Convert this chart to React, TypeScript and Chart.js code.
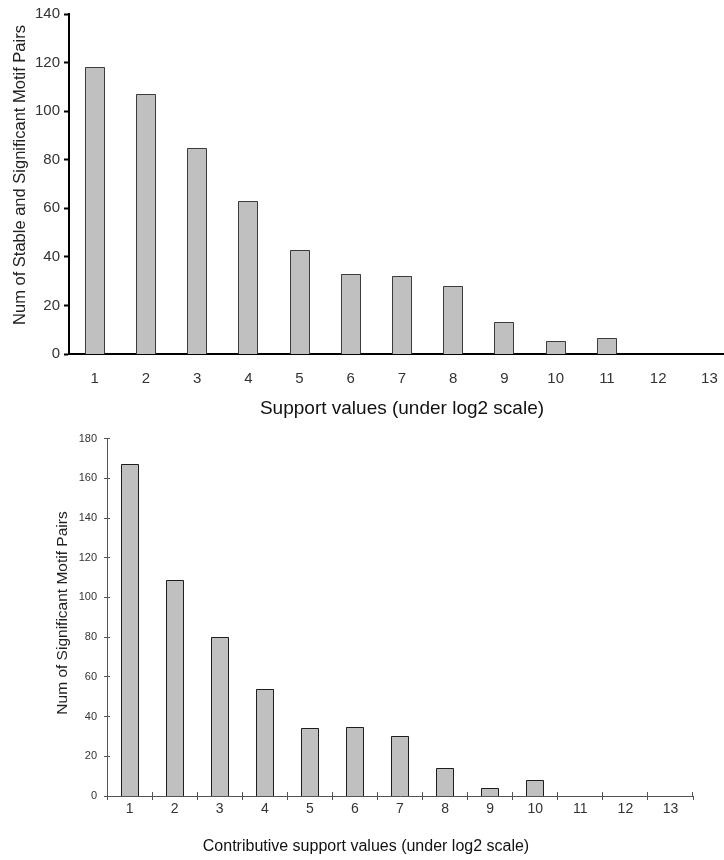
import React, { useEffect, useRef } from 'react';
import { Chart, registerables } from 'chart.js';

Chart.register(...registerables);

// Support values (log2 bins) and pair counts for both panels
const supportLabels = ['1', '2', '3', '4', '5', '6', '7', '8', '9', '10', '11', '12', '13'];
const stableSignificantPairs = [118, 107, 85, 63, 43, 33, 32, 28, 13, 5.5, 6.5, 0, 0];
const stableAxisTicks = { min: 0, max: 140, step: 20 };

const contributiveLabels = ['1', '2', '3', '4', '5', '6', '7', '8', '9', '10', '11', '12', '13'];
const significantPairs = [167, 109, 80, 54, 34, 35, 30, 14, 4, 8, 0, 0, 0];
const significantAxisTicks = { min: 0, max: 180, step: 20 };

const FAMILY = "'Liberation Sans', Arial, sans-serif";

type Caption = { text: string; x: number; y: number; font: string; color: string; rotate?: number };

// Draws free-standing axis captions
const captionPlugin = {
  id: 'captions',
  afterDraw(chart: any, _args: any, opts: any) {
    const ctx = chart.ctx as CanvasRenderingContext2D;
    const items: Caption[] = opts.items || [];
    for (const c of items) {
      ctx.save();
      ctx.translate(c.x, c.y);
      if (c.rotate) ctx.rotate(c.rotate);
      ctx.font = c.font;
      ctx.fillStyle = c.color;
      ctx.textAlign = 'center';
      ctx.textBaseline = 'middle';
      ctx.fillText(c.text, 0, 0);
      ctx.restore();
    }
  },
};

// Paints each bar element on whole pixels so the outlines stay sharp
const crispBarsPlugin = {
  id: 'crispBars',
  afterDatasetsDraw(chart: any, _args: any, opts: any) {
    const ctx = chart.ctx as CanvasRenderingContext2D;
    chart.data.datasets.forEach((_ds: any, i: number) => {
      const meta = chart.getDatasetMeta(i);
      for (const el of meta.data) {
        const { x, y, width, base } = el.getProps(['x', 'y', 'width', 'base'], true);
        if (Math.abs(base - y) < 0.5) continue;
        const l = Math.round(x - width / 2);
        const r = Math.round(x + width / 2);
        const t = Math.round(y);
        const b = Math.round(base);
        ctx.save();
        ctx.fillStyle = opts.fill;
        ctx.fillRect(l, t, r - l, b - t);
        ctx.strokeStyle = opts.line;
        ctx.lineWidth = 1;
        ctx.beginPath();
        ctx.moveTo(l + 0.5, b);
        ctx.lineTo(l + 0.5, t + 0.5);
        ctx.lineTo(r - 0.5, t + 0.5);
        ctx.lineTo(r - 0.5, b);
        ctx.stroke();
        ctx.restore();
      }
    });
  },
};

const align = (p: number) => Math.round(p - 0.5) + 0.5;

// Short tick stubs on the inner side of the axes, so ticks cross the axis lines
const innerTicksPlugin = {
  id: 'innerTicks',
  afterDraw(chart: any, _args: any, opts: any) {
    if (!opts || !opts.enabled) return;
    const { ctx, chartArea } = chart;
    const xs = chart.scales.x;
    const ys = chart.scales.y;
    ctx.save();
    ctx.strokeStyle = opts.color;
    ctx.lineWidth = 1;
    ctx.beginPath();
    for (const t of ys.ticks) {
      const py = align(ys.getPixelForValue(t.value));
      ctx.moveTo(chartArea.left, py);
      ctx.lineTo(chartArea.left + opts.yLength, py);
    }
    const step = xs.getPixelForValue(1) - xs.getPixelForValue(0);
    const first = xs.getPixelForValue(0) - step / 2;
    for (let i = 1; i <= xs.ticks.length; i++) {
      const px = align(first + i * step);
      ctx.moveTo(px, chartArea.bottom);
      ctx.lineTo(px, chartArea.bottom - opts.xLength);
    }
    ctx.stroke();
    ctx.restore();
  },
};

function BarPanel({ width, height, config }: { width: number; height: number; config: any }) {
  const ref = useRef<HTMLCanvasElement | null>(null);
  useEffect(() => {
    if (!ref.current) return;
    const chart = new Chart(ref.current, config);
    return () => chart.destroy();
  }, [config]);
  return <canvas ref={ref} width={width} height={height} style={{ display: 'block' }} />;
}

const topConfig = {
  type: 'bar',
  data: {
    labels: supportLabels,
    datasets: [
      {
        data: stableSignificantPairs,
        backgroundColor: 'rgba(0,0,0,0)',
        borderWidth: 0,
        categoryPercentage: 1,
        barPercentage: 0.39,
      },
    ],
  },
  plugins: [crispBarsPlugin, captionPlugin],
  options: {
    responsive: false,
    animation: false,
    devicePixelRatio: 1,
    layout: { padding: { left: 0, top: 14, right: 5, bottom: 0 } },
    plugins: {
      legend: { display: false },
      tooltip: { enabled: false },
      crispBars: { fill: '#c0c0c0', line: '#3c3c3c' },
      captions: {
        items: [
          { text: 'Support values (under log2 scale)', x: 402, y: 409, font: `19px ${FAMILY}`, color: '#111' },
          {
            text: 'Num of Stable and Significant Motif Pairs',
            x: 20,
            y: 175,
            rotate: -Math.PI / 2,
            font: `16.5px ${FAMILY}`,
            color: '#222',
          },
        ],
      },
    },
    scales: {
      x: {
        z: 1,
        grid: { display: false, drawTicks: false },
        border: { display: true, color: '#000', width: 2 },
        ticks: { color: '#333', font: { family: FAMILY, size: 15 }, padding: 16 },
        afterFit(s: any) {
          s.height = 71;
        },
      },
      y: {
        min: stableAxisTicks.min,
        max: stableAxisTicks.max,
        z: 1,
        ticks: { stepSize: stableAxisTicks.step, color: '#333', font: { family: FAMILY, size: 15 }, padding: 4 },
        grid: { drawOnChartArea: false, drawTicks: true, tickLength: 5, tickWidth: 2, tickColor: '#000', color: '#000' },
        border: { display: true, color: '#000', width: 2 },
        afterFit(s: any) {
          s.width = 69;
        },
      },
    },
  },
};

const bottomConfig = {
  type: 'bar',
  data: {
    labels: contributiveLabels,
    datasets: [
      {
        data: significantPairs,
        backgroundColor: 'rgba(0,0,0,0)',
        borderWidth: 0,
        categoryPercentage: 1,
        barPercentage: 0.4,
      },
    ],
  },
  plugins: [crispBarsPlugin, captionPlugin, innerTicksPlugin],
  options: {
    responsive: false,
    animation: false,
    devicePixelRatio: 1,
    layout: { padding: { left: 0, top: 13, right: 31, bottom: 0 } },
    plugins: {
      legend: { display: false },
      tooltip: { enabled: false },
      crispBars: { fill: '#c0c0c0', line: '#1e1e1e' },
      innerTicks: { enabled: true, color: '#555', xLength: 4, yLength: 3 },
      captions: {
        items: [
          {
            text: 'Contributive support values (under log2 scale)',
            x: 366,
            y: 422,
            font: `16px ${FAMILY}`,
            color: '#111',
          },
          {
            text: 'Num of Significant Motif Pairs',
            x: 63,
            y: 188,
            rotate: -Math.PI / 2,
            font: `15.5px ${FAMILY}`,
            color: '#222',
          },
        ],
      },
    },
    scales: {
      x: {
        z: 1,
        grid: { display: true, offset: true, drawOnChartArea: false, drawTicks: true, tickLength: 4, color: '#555' },
        border: { display: true, color: '#555', width: 1 },
        ticks: { color: '#333', font: { family: FAMILY, size: 14 }, padding: 1 },
        afterFit(s: any) {
          s.height = 64;
        },
      },
      y: {
        min: significantAxisTicks.min,
        max: significantAxisTicks.max,
        z: 1,
        ticks: { stepSize: significantAxisTicks.step, color: '#333', font: { family: FAMILY, size: 11 }, padding: 7 },
        grid: { drawOnChartArea: false, drawTicks: true, tickLength: 3, color: '#555' },
        border: { display: true, color: '#555', width: 1 },
        afterFit(s: any) {
          s.width = 107;
        },
      },
    },
  },
};

export default function App() {
  return (
    <div
      style={{
        position: 'absolute',
        left: 0,
        top: 0,
        width: 724,
        height: 860,
        overflow: 'hidden',
        background: '#fff',
      }}
    >
      <div style={{ width: 724, height: 425, overflow: 'hidden' }}>
        <BarPanel width={740} height={425} config={topConfig} />
      </div>
      <div style={{ width: 724, height: 435, overflow: 'hidden' }}>
        <BarPanel width={724} height={435} config={bottomConfig} />
      </div>
    </div>
  );
}
